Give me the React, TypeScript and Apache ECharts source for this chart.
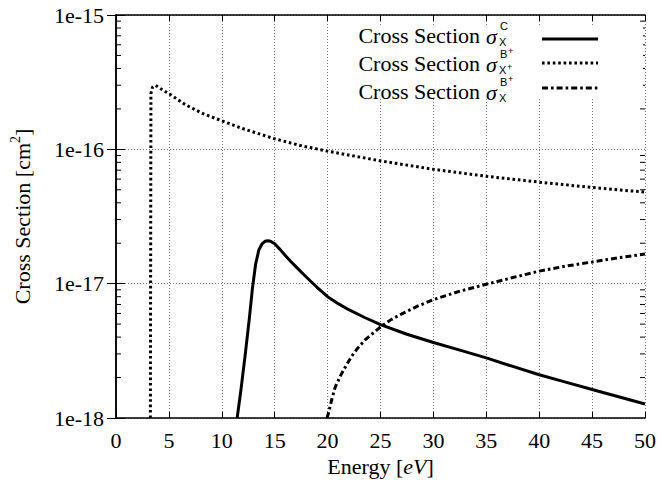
import React, { useEffect, useRef } from 'react';
import * as echarts from 'echarts';

// Energies [eV] and cross sections [cm^2] for the three channels
const energyC = [11.45, 11.8, 12.2, 12.6, 12.9, 13.2, 13.5, 13.8, 14.1, 14.35, 14.6, 15.0, 15.5, 16.0, 16.5, 17.0, 17.6, 18.3, 19.0, 20.0, 21.0, 22.0, 23.5, 25.0, 27.5, 30.0, 32.5, 35.0, 37.5, 40.0, 42.5, 45.0, 47.5, 50.0];
const sigmaC = [1.0e-18, 1.6e-18, 2.9e-18, 5.5e-18, 9.3e-18, 1.4e-17, 1.78e-17, 1.98e-17, 2.07e-17, 2.09e-17, 2.07e-17, 1.98e-17, 1.8e-17, 1.62e-17, 1.47e-17, 1.34e-17, 1.2e-17, 1.06e-17, 9.4e-18, 8.0e-18, 7.1e-18, 6.4e-18, 5.6e-18, 4.95e-18, 4.2e-18, 3.65e-18, 3.2e-18, 2.8e-18, 2.42e-18, 2.1e-18, 1.85e-18, 1.63e-18, 1.44e-18, 1.27e-18];

const energyXp = [3.25, 3.3, 3.45, 3.73, 4.3, 5.2, 6.6, 8.18, 10.0, 11.94, 14.97, 17.58, 20.0, 25.0, 30.0, 35.0, 40.0, 45.0, 50.0];
const sigmaXp = [1.0e-18, 2.6e-16, 2.9e-16, 3.0e-16, 2.8e-16, 2.54e-16, 2.14e-16, 1.85e-16, 1.63e-16, 1.43e-16, 1.2e-16, 1.06e-16, 9.7e-17, 8.2e-17, 7.1e-17, 6.3e-17, 5.7e-17, 5.2e-17, 4.8e-17];

const energyX = [19.95, 20.1, 20.4, 20.7, 21.2, 21.7, 22.3, 22.9, 23.6, 24.4, 25.1, 26.0, 27.0, 28.5, 30.0, 32.5, 35.0, 37.5, 40.0, 42.5, 45.0, 47.5, 50.0];
const sigmaX = [1.0e-18, 1.1e-18, 1.38e-18, 1.68e-18, 2.05e-18, 2.42e-18, 2.9e-18, 3.35e-18, 3.85e-18, 4.35e-18, 4.83e-18, 5.4e-18, 5.95e-18, 6.8e-18, 7.6e-18, 8.8e-18, 9.9e-18, 1.11e-17, 1.24e-17, 1.35e-17, 1.45e-17, 1.56e-17, 1.66e-17];

// Axis ranges
const xMin = 0;
const xMax = 50;
const xStep = 5;
const yMin = 1e-18;
const yMax = 1e-15;
const decades = [1e-18, 1e-17, 1e-16];
const minorSteps = [2, 3, 4, 5, 6, 7, 8, 9];

const SERIF = 'Liberation Serif, Times New Roman, serif';
const SANS = 'Liberation Sans, DejaVu Sans, sans-serif';
const FS = 22;

const dotted = [2.6, 2.8];
const dashDot = [6, 3, 2.6, 3];

const legendRows = [
  { sup: 'C', supPlus: false, sub: 'X', subPlus: false, dash: null as number[] | null },
  { sup: 'B', supPlus: true, sub: 'X', subPlus: true, dash: dotted },
  { sup: 'B', supPlus: true, sub: 'X', subPlus: false, dash: dashDot },
];

const pair = (xs: number[], ys: number[]) => xs.map((x, i) => [x, ys[i]]);

const txt = (text: string, x: number, y: number, font: string, align = 'left') => ({
  type: 'text',
  z: 10,
  style: { text, x, y, font, fill: '#000', align, verticalAlign: 'middle', textAlign: align, textVerticalAlign: 'middle' },
});

function buildLegend() {
  const els: any[] = [];
  els.push({
    type: 'rect',
    shape: { x: 338, y: 26, width: 305, height: 71 },
    style: { fill: '#fff' },
    z: 5,
  });
  const mids = [35, 63, 91];
  const lines = [39, 63, 88];
  legendRows.forEach((row, i) => {
    const m = mids[i];
    els.push(txt('Cross Section', 480, m, `${FS}px ${SERIF}`, 'right'));
    els.push(txt('σ', 486, m + 1, `italic ${FS}px ${SERIF}`));
    els.push(txt(row.sup, 500, m - 9, `11px ${SANS}`));
    if (row.supPlus) els.push(txt('+', 508, m - 12, `9px ${SANS}`));
    els.push(txt(row.sub, 499, m + 7, `11px ${SANS}`));
    if (row.subPlus) els.push(txt('+', 507, m + 4, `9px ${SANS}`));
    els.push({
      type: 'line', z: 10,
      shape: { x1: 542, y1: lines[i], x2: 598, y2: lines[i] },
      style: { stroke: '#000', lineWidth: 3, lineDash: row.dash || undefined },
    });
  });
  return els;
}

export default function App() {
  const ref = useRef<HTMLDivElement>(null);

  useEffect(() => {
    if (!ref.current) return;
    const chart = echarts.init(ref.current, undefined, { renderer: 'svg' });

    const minorTicks: number[][] = [];
    decades.forEach((d) => minorSteps.forEach((m) => minorTicks.push([xMin, d * m])));

    const gridLine = { show: true, lineStyle: { color: '#777', width: 1, type: [1, 2] } };
    const labelStyle = { color: '#000', fontFamily: SERIF, fontSize: FS };
    const frame = { show: true, lineStyle: { color: '#000', width: 1.5 } };

    chart.setOption({
      animation: false,
      backgroundColor: '#fff',
      grid: { left: 113, right: 16, top: 15, bottom: 67 },
      xAxis: [
        {
          type: 'value', min: xMin, max: xMax, interval: xStep, position: 'bottom',
          axisLine: frame,
          axisTick: { show: true, inside: true, length: 6, lineStyle: { color: '#000', width: 1 } },
          axisLabel: { ...labelStyle, margin: 11 },
          splitLine: gridLine,
          name: 'Energy [{i|eV}]',
          nameLocation: 'middle',
          nameGap: 37,
          nameTextStyle: { ...labelStyle, rich: { i: { fontStyle: 'italic', fontFamily: SERIF, fontSize: FS, color: '#000' } } },
        },
        {
          type: 'value', min: xMin, max: xMax, interval: xStep, position: 'top',
          axisLine: frame,
          axisTick: { show: true, inside: true, length: 6, lineStyle: { color: '#000', width: 1 } },
          axisLabel: { show: false },
          splitLine: { show: false },
        },
      ],
      yAxis: [
        {
          type: 'log', logBase: 10, min: yMin, max: yMax, splitNumber: 3, position: 'left',
          axisLine: frame,
          axisTick: { show: true, inside: true, length: 9, lineStyle: { color: '#000', width: 1 } },
          axisLabel: {
            ...labelStyle, margin: 12,
            formatter: (v: number) => '1e' + Math.round(Math.log10(v)),
          },
          splitLine: gridLine,
          name: 'Cross Section [cm{sup|2}]',
          nameLocation: 'middle',
          nameGap: 80,
          nameRotate: 90,
          nameTextStyle: {
            ...labelStyle, lineHeight: 28, verticalAlign: 'bottom',
            rich: {
              sup: { fontFamily: SERIF, fontSize: 14, color: '#000', lineHeight: 14, verticalAlign: 'top' },
            },
          },
        },
        {
          type: 'log', logBase: 10, min: yMin, max: yMax, splitNumber: 3, position: 'right',
          axisLine: frame,
          axisTick: { show: true, inside: true, length: 9, lineStyle: { color: '#000', width: 1 } },
          axisLabel: { show: false },
          splitLine: { show: false },
        },
      ],
      series: [
        {
          name: 'minor', type: 'custom', xAxisIndex: 0, yAxisIndex: 0, silent: true, z: 3,
          data: minorTicks,
          renderItem: (_p: any, api: any) => {
            const v = api.value(1);
            const l = api.coord([xMin, v]);
            const r = api.coord([xMax, v]);
            return {
              type: 'group',
              children: [
                { type: 'line', shape: { x1: l[0], y1: l[1], x2: l[0] + 5, y2: l[1] }, style: { stroke: '#000', lineWidth: 1 } },
                { type: 'line', shape: { x1: r[0] - 5, y1: r[1], x2: r[0], y2: r[1] }, style: { stroke: '#000', lineWidth: 1 } },
              ],
            };
          },
        },
        {
          name: 'C', type: 'line', xAxisIndex: 0, yAxisIndex: 0, showSymbol: false, symbol: 'none', z: 4,
          data: pair(energyC, sigmaC),
          lineStyle: { color: '#000', width: 3, join: 'round' },
        },
        {
          name: 'Xp', type: 'line', xAxisIndex: 0, yAxisIndex: 0, showSymbol: false, symbol: 'none', z: 4,
          data: pair(energyXp, sigmaXp),
          lineStyle: { color: '#000', width: 3, type: dotted },
        },
        {
          name: 'X', type: 'line', xAxisIndex: 0, yAxisIndex: 0, showSymbol: false, symbol: 'none', z: 4,
          data: pair(energyX, sigmaX),
          lineStyle: { color: '#000', width: 3, type: dashDot },
        },
      ],
      graphic: buildLegend(),
    });

    return () => chart.dispose();
  }, []);

  return <div ref={ref} style={{ position: 'fixed', left: 0, top: 0, width: 661, height: 485 }} />;
}
